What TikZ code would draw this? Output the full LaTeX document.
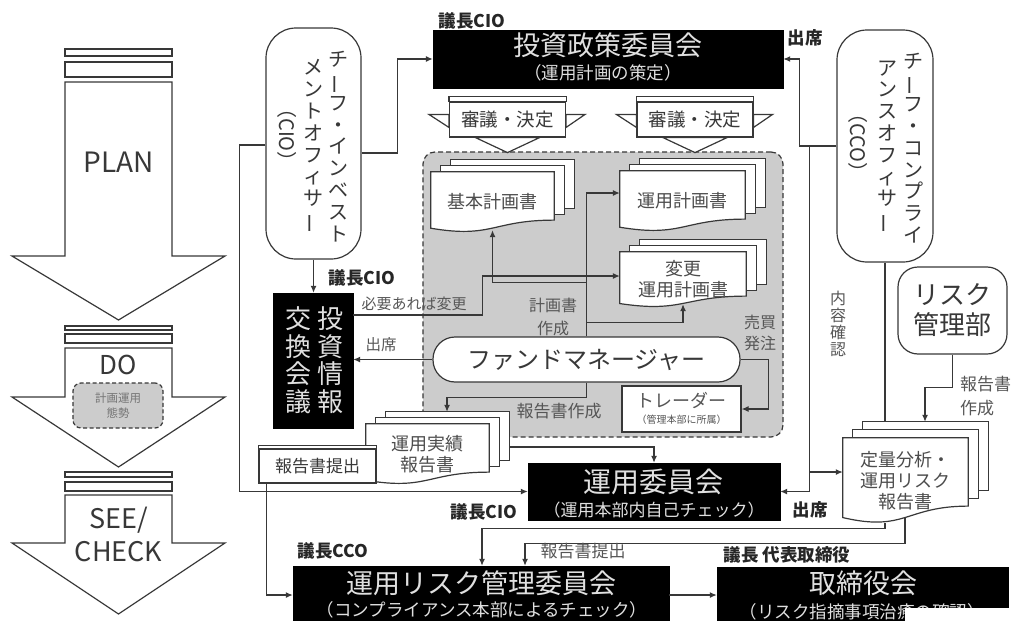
\documentclass[tikz,border=0pt]{standalone}
\usepackage{fontspec}
\setmainfont{Noto Sans CJK JP}
\usepackage{graphicx}
\usetikzlibrary{arrows.meta,calc,positioning}

\definecolor{ink}{HTML}{383838}
\newcommand{\fsz}[1]{\fontsize{#1}{#1}\selectfont}
\newcommand{\vbar}{\rotatebox[origin=c]{90}{ー}}

% stacked documents: name, position, width, height, page shift, text
\newcommand{\docstack}[6]{%
  \node[minimum width=#3, minimum height=#4, inner sep=0pt] (#1) at #2 {};
  \coordinate (#1-br) at ($(#1.north east)!0.8!(#1.south east)$);
  \foreach \k in {2,1}
    \draw[box] ([shift={({10*\k},{-#5*\k})}]#1.north west) rectangle ([shift={({10*\k},{-#5*\k})}]#1-br);
  \draw[box] (#1.north west) -- (#1.north east) -- (#1-br)
    .. controls ($(#1.north)!0.8!(#1.south)$) and ($(#1.north)!1.107!(#1.south)$)
    .. ($(#1.north west)!0.934!(#1.south west)$) -- cycle;
  \node[doctext] (#1-txt) at (#1.center) {#6};
}

% banner with wings: name, position, text
\newcommand{\reviewbox}[3]{%
  \node[box, minimum width=116pt, minimum height=35pt, font=\fsz{18.5}, text=ink] (#1) at #2 {#3};
  \draw[box] (#1.north west) rectangle ([yshift=5pt]#1.north east);
  \draw[box] ([yshift=-13pt]#1.north west) -- ++(-20,0) -- ([yshift=-26pt]#1.north west) -- cycle;
  \draw[box] ([yshift=-13pt]#1.north east) -- ++(19,0) -- ([yshift=-26pt]#1.north east) -- cycle;
  \draw[box] ([xshift=-32pt]#1.south) -- ([yshift=-15pt]#1.south) -- ([xshift=32pt]#1.south) -- cycle;
}

\begin{document}
\begin{tikzpicture}[x=1pt, y=-1pt,
    >={Latex[length=7pt,width=6pt]},
    box/.style={draw=ink, line width=1.2pt, fill=white},
    conn/.style={->, draw=ink, line width=1.2pt},
    line/.style={draw=ink, line width=1.2pt},
    blk/.style={fill=black, draw=black, inner sep=0pt},
    ttl/.style={text=white!88!black, font=\fsz{27}},
    subttl/.style={text=white!88!black, font=\fsz{17.5}},
    vblk/.style={text=white!88!black, font=\fontsize{26}{27.5}\selectfont, align=center, inner sep=0pt},
    chair/.style={font=\bfseries\fsz{17.5}, text=black!85},
    note/.style={text=ink!85, align=center, inner sep=0pt},
    doctext/.style={text=ink!90, font=\fontsize{18}{21}\selectfont, align=center, inner sep=0pt},
    vcol/.style={text=ink, font=\fontsize{20}{21.8}\selectfont, align=center, inner sep=0pt},
    pdca/.style={text=ink, font=\fsz{28}},
    region/.style={draw=ink, dash pattern=on 5pt off 3pt, line width=1.2pt, fill=black!20, rounded corners=12pt}]
\useasboundingbox (0,0) rectangle (1018,621);

% PLAN / DO / SEE arrows
\foreach \a/\b/\c/\d/\e/\f/\g in {49/56/62/77/82/256/320, 326/330/334/343/348/397/467, 472/477/482/491/495/543/614}{
  \draw[box] (65,\a) rectangle (172,\b);
  \draw[box] (65,\c) rectangle (172,\d);
  \draw[box] (65,\e) -- (172,\e) -- (172,\f) -- (225,\f) -- (118.5,\g) -- (12,\f) -- (65,\f) -- cycle;
}
\node[pdca] (plan) at (118.5,162) {PLAN};
\node[pdca, font=\fsz{26}] (do) at (118.5,365) {DO};
\node[draw=ink, line width=1.2pt, dash pattern=on 4pt off 2.5pt, fill=black!20, rounded corners=8pt,
      minimum width=90pt, minimum height=45pt, align=center, font=\fontsize{11.5}{15}\selectfont, text=ink!70] (dobox) at (118,405.5) {計画運用\\態勢};
\node[pdca, align=center, font=\fontsize{27}{33}\selectfont] (see) at (118.5,534.5) {SEE/\\CHECK};

% fund management group
\node[region, minimum width=360pt, minimum height=285pt] (grp) at (603,294.5) {};

% committees
\node[blk, minimum width=350pt, minimum height=58pt] (ipc) at (608,59) {};
\node[ttl] (ipc-t) at (608,45) {投資政策委員会};
\node[subttl] (ipc-s) at (603,73) {（運用計画の策定）};

\node[blk, minimum width=80pt, minimum height=135pt] (iie) at (313,360.5) {};
\node[vblk] (iie-r) at (330,360) {投\\資\\情\\報};
\node[vblk] (iie-l) at (298,360) {交\\換\\会\\議};

\node[blk, minimum width=252pt, minimum height=57pt] (ucm) at (654,491.5) {};
\node[ttl, font=\fsz{28}] (ucm-t) at (653,482) {運用委員会};
\node[subttl, font=\fsz{17}] (ucm-s) at (654,510) {（運用本部内自己チェック）};

\node[blk, minimum width=376pt, minimum height=58pt] (rcm) at (481,595) {};
\node[ttl] (rcm-t) at (481,583) {運用リスク管理委員会};
\node[subttl] (rcm-s) at (482,610) {（コンプライアンス本部によるチェック）};

\node[blk, minimum width=291pt, minimum height=58pt] (brd) at (862.5,596) {};
\node[ttl] (brd-t) at (863,583) {取締役会};
\node[subttl] (brd-s) at (862,612) {（リスク指摘事項治癒の確認）};

% officers
\node[box, rounded corners=30pt, minimum width=95pt, minimum height=231pt] (cio) at (313.5,143.5) {};
\node[vcol] (cio-1) at (338,146.5) {チ\\\vbar\\フ\\・\\イ\\ン\\ベ\\ス\\ト};
\node[vcol] (cio-2) at (313,146.5) {メ\\ン\\ト\\オ\\フ\\ィ\\サ\\\vbar};
\node[vcol, rotate=-90] (cio-3) at (287,135) {（CIO）};

\node[box, rounded corners=30pt, minimum width=96pt, minimum height=232pt] (cco) at (885,146) {};
\node[vcol] (cco-1) at (913,148) {チ\\\vbar\\フ\\・\\コ\\ン\\プ\\ラ\\イ};
\node[vcol] (cco-2) at (887,147) {ア\\ン\\ス\\オ\\フ\\ィ\\サ\\\vbar};
\node[vcol, rotate=-90] (cco-3) at (858,143) {（CCO）};

\node[box, rounded corners=20pt, minimum width=109pt, minimum height=87pt, align=center,
      font=\fontsize{26}{30}\selectfont, text=ink] (rmd) at (952.5,310.5) {リスク\\管理部};

\node[box, rounded corners=22pt, minimum width=307pt, minimum height=45pt, font=\fsz{24}, text=ink] (fm) at (586.5,359.5) {ファンドマネージャー};
\node[box, minimum width=119pt, minimum height=46pt, inner sep=0pt] (trd) at (681.5,409) {};
\node[note, font=\fsz{18}] (trd-t) at (681.5,400) {トレーダー};
\node[note, font=\fsz{10}] (trd-s) at (681.5,420) {（管理本部に所属）};

% decisions and documents
\reviewbox{rev1}{(507.5,119.5)}{審議・決定}
\reviewbox{rev2}{(695,119.5)}{審議・決定}

\docstack{basic}{(492.5,202)}{123pt}{60pt}{6}{基本計画書}
\docstack{plan}{(682.5,201)}{125pt}{60pt}{6}{運用計画書}
\docstack{chg}{(683,279.5)}{126pt}{55pt}{6}{変更\\運用計画書}
\docstack{perf}{(427.5,454)}{123pt}{60pt}{6}{運用実績\\報告書}
\docstack{rdoc}{(905.5,480.5)}{125pt}{85pt}{8}{定量分析・\\運用リスク\\報告書}

\node[box, minimum width=117pt, minimum height=34pt, font=\fsz{17}, text=ink] (sub) at (317.5,466) {報告書提出};
\draw[box] (sub.north west) rectangle ([yshift=3pt]sub.north east);

% connectors
\coordinate (ccobus) at ([xshift=-27pt]cco.west);
\coordinate (rdocin) at ([yshift=8.5pt]rdoc.west);
\coordinate (rdoctop) at ([yshift=16pt]rdoc.north);

\draw[conn] ([yshift=-9.5pt]cio.east) -- ++(36,0) |- (ipc.west);
\draw[conn] ([yshift=-1.5pt]cio.west) -- ++(-26,0) |- (ucm.west);
\draw[conn] (cio.south) -- (cio.south |- iie.north);
\draw[conn] ([yshift=45.5pt]iie.east) -- ++(129,0) |- ([yshift=3.5pt]chg.west);
\draw[conn] (fm.north) |- ([yshift=8pt]plan.west);
\draw[conn] ([yshift=54pt]fm.north) -| ([yshift=2pt]basic.south);
\draw[conn] ([yshift=14pt]fm.north) -| ([yshift=3pt]chg.south);
\draw[conn] (fm.west) -- (fm.west -| iie.east);
\draw[conn] (fm.east) -- ++(28,0) |- (trd.east);
\draw[conn] (fm.south) -- ++(0,15) -| ([shift={(19.5pt,12pt)}]perf.north);
\draw[conn] ([shift={(20pt,7pt)}]perf.east) -| (ucm.north);
\draw[conn] ([xshift=-51pt]sub.south) |- (rcm.west);
\draw[conn] (cco.west) -- ++(-37,0) |- (ipc.east);
\draw[conn] (ccobus) |- (ucm.east);
\draw[conn] (ccobus |- rdocin) -- (rdocin);
\draw[line] (cco.south) -- (cco.south |- rdoctop);
\draw[conn] (rmd.south) -- ++(0,33) -| ([xshift=19.5pt]rdoctop);
\draw[conn] ([xshift=-20.5pt]rdoc.south) -- ++(0,5) -| ([xshift=1pt]rcm.north);
\draw[conn] ([shift={(-0.5pt,6pt)}]rdoc.south) -- ++(0,26) -| ([xshift=44pt]rcm.north);
\draw[conn] (rcm.east) -- (rcm.east -| brd.west);

% labels
\node[chair] (ch-ipc) at (472,21) {議長CIO};
\node[chair] (at-ipc) at (805,38) {出席};
\node[chair] (ch-iie) at (362,278) {議長CIO};
\node[chair] (ch-ucm) at (484,512) {議長CIO};
\node[chair] (at-ucm) at (810,510) {出席};
\node[chair] (ch-rcm) at (333,551) {議長CCO};
\node[chair] (ch-brd) at (787,555) {議長 代表取締役};

\node[note, font=\fsz{15}] (lb-chg) at (414,304) {必要あれば変更};
\node[note, font=\fsz{15.5}] (lb-at) at (381,345) {出席};
\node[note, font=\fontsize{16}{23}\selectfont] (lb-plan) at (553,316.5) {計画書\\作成};
\node[note, font=\fontsize{16}{21}\selectfont] (lb-ord) at (760,332.5) {売買\\発注};
\node[note, font=\fsz{17}] (lb-rep) at (559,411) {報告書作成};
\node[note, font=\fontsize{16}{17}\selectfont] (lb-chk) at (838,324) {内\\容\\確\\認};
\node[note, font=\fontsize{17}{24}\selectfont, align=left, anchor=west] (lb-rmd) at (960,396) {報告書\\作成};
\node[note, font=\fsz{17}] (lb-sub) at (583,551) {報告書提出};

% white patch over the lower right corner
\fill[white] (905,608) rectangle (1018,621);
\end{tikzpicture}
\end{document}
